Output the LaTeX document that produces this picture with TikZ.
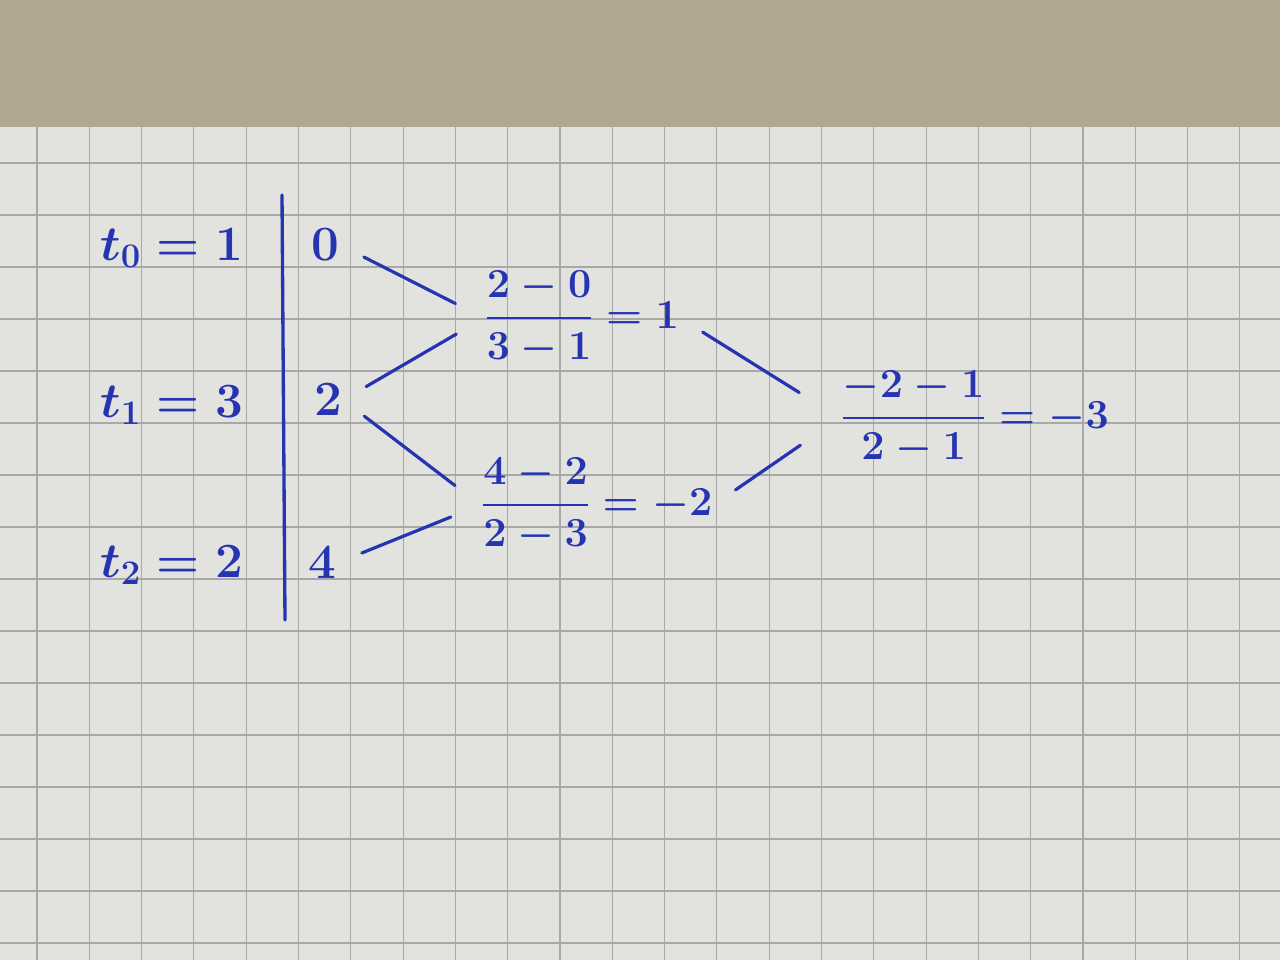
\RequirePackage{fix-cm}
\documentclass[tikz,border=0pt]{standalone}
\usepackage{amsmath}
\usepackage{tikz}
\definecolor{ink}{RGB}{38,52,178}
\definecolor{paper}{RGB}{226,226,223}
\definecolor{gridgray}{RGB}{168,168,168}
\definecolor{desk}{RGB}{178,168,145}

\begin{document}
\begin{tikzpicture}[x=0.75pt,y=0.75pt,yscale=-1,xscale=1,
  inkline/.style={draw=ink,line width=2.4pt,line cap=round,shorten <=20pt,shorten >=24pt},
  txt/.style={inner sep=0.75pt,text=ink,font=\fontsize{37}{44}\selectfont\boldmath},
  frc/.style={inner sep=0.75pt,text=ink,font=\fontsize{31}{37}\selectfont\boldmath}]
\useasboundingbox (0,0) rectangle (1280,960);
%Paper and desk
\fill [desk] (0,0) rectangle (1280,127);
\fill [paper] (0,127) rectangle (1280,960);
%Grid
\foreach \gx in {0,...,23} \draw [gridgray,line width=0.8] (37+52.3*\gx,127) -- (37+52.3*\gx,960);
\foreach \gy in {0,...,15} \draw [gridgray,line width=0.8] (0,163+52*\gy) -- (1280,163+52*\gy);
%Separator
\draw [ink,line width=2.5pt,line cap=round] (282,195) -- (285,620);
% Text Node
\node [txt] (t0) at (172,248) {$t_0=1$};
\node [txt] (t1) at (172,405) {$t_1=3$};
\node [txt] (t2) at (172,565) {$t_2=2$};
% Text Node
\node [txt] (v0) at (325,245) {$0$};
\node [txt] (v1) at (328,400) {$2$};
\node [txt] (v2) at (322,563) {$4$};
% Text Node
\node [frc] (d01) at (582,318) {$\dfrac{2-0}{3-1}=1$};
\node [frc] (d12) at (597,505) {$\dfrac{4-2}{2-3}=-2$};
\node [frc] (d012) at (975,418) {$\dfrac{-2-1}{2-1}=-3$};
%Straight Lines
\draw [inkline] (v0.east) -- (d01.west);
\draw [inkline] (v1.east) -- (d01.west);
\draw [inkline] (v1.east) -- (d12.west);
\draw [inkline] (v2.east) -- (d12.west);
\draw [inkline,shorten >=36pt] (d01.east) -- (d012.west);
\draw [inkline,shorten >=36pt] (d12.east) -- (d012.west);
\end{tikzpicture}
\end{document}
